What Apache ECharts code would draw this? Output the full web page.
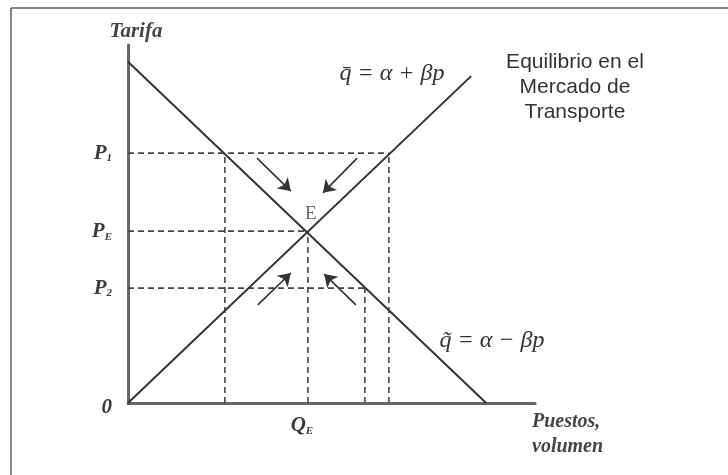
<!DOCTYPE html>
<html>
<head>
<meta charset="utf-8">
<script src="https://cdn.jsdelivr.net/npm/echarts@6/dist/echarts.min.js"></script>
<style>
html,body{margin:0;padding:0;background:#fff;}
#chart{width:728px;height:475px;}
</style>
</head>
<body>
<div id="chart"></div>
<script>
// ---- data (schematic units, x 0..100, y 0..100) ----
const demandLine = [[0, 95.3], [88.0, 0]];      // q~ = a - bp
const supplyLine = [[0, 0], [84.3, 91.3]];      // q- = a + bp
const priceValues = [69.8, 48.0, 32.1];         // P1, PE, P2
const priceTickLabels = ['P1', 'PE', 'P2'];
const qtyValues = [44.2];                       // QE
const qtyTickLabels = ['QE'];
const demandAtP1 = 23.8, supplyAtP1 = 64.1, demandAtP2 = 58.2;
const equilibrium = [44.2, 48.0];
const arrowFrom = [[31.7, 68.4], [56.3, 68.4], [31.9, 27.4], [56.0, 27.4]];
const arrowTo   = [[40.0, 59.2], [47.9, 58.7], [40.0, 36.3], [48.2, 36.0]];

const [p1, pE, p2] = priceValues;
const qE = qtyValues[0];
const guides = [
  [[0, p1], [supplyAtP1, p1]],
  [[demandAtP1, 0], [demandAtP1, p1]],
  [[supplyAtP1, 0], [supplyAtP1, p1]],
  [[0, pE], [qE, pE]],
  [[qE, 0], [qE, pE]],
  [[0, p2], [demandAtP2, p2]],
  [[demandAtP2, 0], [demandAtP2, p2]]
];

const serif = "'Liberation Serif','DejaVu Serif',serif";
const sans = "'Liberation Sans','DejaVu Sans',sans-serif";
const richSub = {
  p: {fontFamily: serif, fontStyle: 'italic', fontWeight: 'bold', fontSize: 21, color: '#3a3a3a'},
  z: {fontFamily: serif, fontStyle: 'italic', fontWeight: 'bold', fontSize: 21, color: '#3a3a3a', padding: [10, 0, 0, 0]},
  s: {fontFamily: serif, fontStyle: 'italic', fontWeight: 'bold', fontSize: 11, color: '#3a3a3a', padding: [11, 0, 0, 0]}
};
function subFmt(lbl) { return '{p|' + lbl[0] + '}{s|' + lbl.slice(1) + '}'; }

const series = [];
guides.forEach(g => series.push({
  type: 'line', data: g, symbol: 'none', silent: true,
  lineStyle: {color: '#444', width: 1.6, type: [6, 4]}
}));
series.push({type: 'line', data: demandLine, symbol: 'none', lineStyle: {color: '#333', width: 2}});
series.push({type: 'line', data: supplyLine, symbol: 'none', lineStyle: {color: '#333', width: 2}});
series.push({
  type: 'lines', coordinateSystem: 'cartesian2d',
  symbol: ['none', 'arrow'], symbolSize: 12,
  lineStyle: {color: '#333', width: 1.6, opacity: 1},
  data: arrowFrom.map((f, i) => ({coords: [f, arrowTo[i]]}))
});
series.push({
  type: 'scatter', data: [equilibrium], symbolSize: 0,
  label: {show: true, position: 'top', distance: 8, offset: [3, 0], formatter: 'E',
    fontFamily: serif, fontSize: 19, color: '#444'}
});

const chart = echarts.init(document.getElementById('chart'));
chart.setOption({
  animation: false,
  backgroundColor: '#fff',
  grid: {left: 128, top: 45, right: 193, bottom: 72},
  xAxis: {
    type: 'value', min: 0, max: 100,
    axisLine: {show: true, lineStyle: {color: '#666', width: 3}},
    axisTick: {show: false}, splitLine: {show: false},
    axisLabel: {customValues: qtyValues, margin: 12, padding: [0, 12, 0, 0],
      formatter: v => subFmt(qtyTickLabels[qtyValues.indexOf(v)] || ''), rich: richSub},
    name: 'Puestos,\nvolumen', nameLocation: 'end', nameGap: -3,
    nameTextStyle: {fontFamily: serif, fontStyle: 'italic', fontWeight: 'bold', fontSize: 20,
      color: '#444', align: 'left', verticalAlign: 'top', lineHeight: 25, padding: [6, 0, 0, 0]}
  },
  yAxis: {
    type: 'value', min: 0, max: 100,
    axisLine: {show: true, lineStyle: {color: '#666', width: 3}},
    axisTick: {show: false}, splitLine: {show: false},
    axisLabel: {customValues: [0].concat(priceValues), margin: 16,
      formatter: v => v === 0 ? '{z|0}' : subFmt(priceTickLabels[priceValues.indexOf(v)] || ''),
      rich: richSub},
    name: 'Tarifa', nameLocation: 'end', nameGap: 3,
    nameTextStyle: {fontFamily: serif, fontStyle: 'italic', fontWeight: 'bold', fontSize: 21,
      color: '#444', padding: [0, 0, 0, 16]}
  },
  graphic: [
    {type: 'line', shape: {x1: 11, y1: 8, x2: 728, y2: 8}, style: {stroke: '#888', lineWidth: 2}},
    {type: 'line', shape: {x1: 11, y1: 8, x2: 11, y2: 475}, style: {stroke: '#333', lineWidth: 1.2}},
    {type: 'text', x: 575, y: 50, style: {text: 'Equilibrio en el\nMercado de\nTransporte',
      font: '21px ' + sans, fill: '#333', align: 'center', verticalAlign: 'top', lineHeight: 25}},
    {type: 'text', x: 392, y: 74, style: {text: 'q\u0304 = \u03b1 + \u03b2p',
      font: 'italic 24px ' + serif, fill: '#333', align: 'center', verticalAlign: 'middle'}},
    {type: 'text', x: 492, y: 341, style: {text: 'q\u0303 = \u03b1 \u2212 \u03b2p',
      font: 'italic 24px ' + serif, fill: '#333', align: 'center', verticalAlign: 'middle'}}
  ],
  series: series
});
</script>
</body>
</html>
